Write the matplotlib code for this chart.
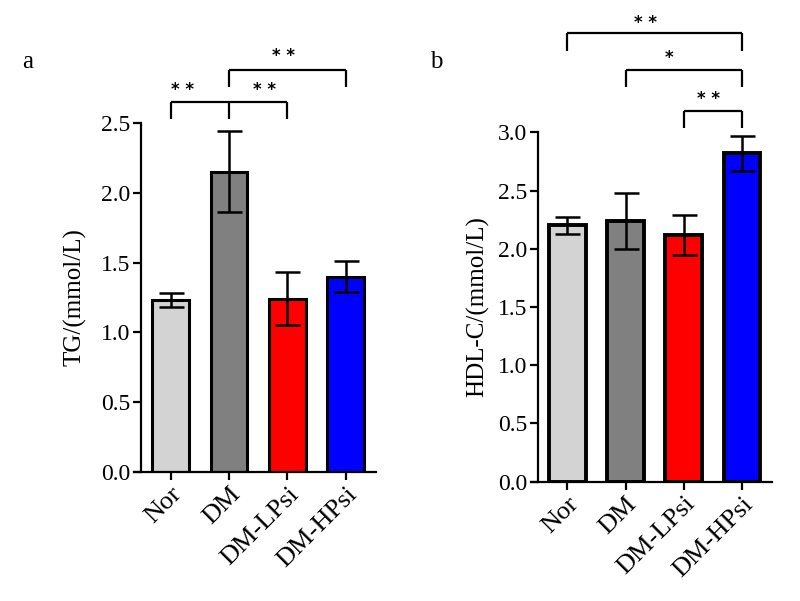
import matplotlib.pyplot as plt
import matplotlib.transforms as mtransforms
import numpy as np

groups = ['Nor', 'DM', 'DM-LPsi', 'DM-HPsi']
colors = ['#d3d3d3', '#808080', '#ff0000', '#0000ff']

tg_mean = [1.23, 2.15, 1.24, 1.40]
tg_err = [0.05, 0.29, 0.19, 0.11]

hdl_mean = [2.20, 2.24, 2.12, 2.82]
hdl_err = [0.07, 0.24, 0.17, 0.15]

plt.rcParams['font.family'] = ['Liberation Serif', 'DejaVu Serif']

fig = plt.figure(figsize=(8, 6.01), dpi=100)
ax1 = fig.add_axes([0.1675, 0.2146, 0.3025, 0.5807])
ax2 = fig.add_axes([0.66375, 0.1985, 0.30125, 0.5814])


def draw_panel(ax, mean, err, ylim, yticks, ylabel, edge_lw, pad):
    x = np.arange(len(groups))
    ax.bar(x, mean, width=0.63, color=colors, edgecolor='black', linewidth=edge_lw, zorder=2)
    ax.errorbar(x, mean, yerr=err, fmt='none', ecolor='black', elinewidth=1.8,
                capsize=9, capthick=1.8, zorder=3)
    ax.set_xlim(-0.625, 3.515)
    ax.set_ylim(*ylim)
    ax.set_yticks(yticks)
    ax.set_yticklabels([f'{t:.1f}' for t in yticks])
    ax.set_xticks(x)
    ax.set_xticklabels(groups, rotation=45, ha='right', rotation_mode='anchor', fontsize=19)
    # nudge the rotated labels a little right, like the original
    offset = mtransforms.ScaledTranslation(7 / 100, -3 / 100, fig.dpi_scale_trans)
    for lab in ax.get_xticklabels():
        lab.set_transform(lab.get_transform() + offset)
    ax.spines['top'].set_visible(False)
    ax.spines['right'].set_visible(False)
    ax.spines['left'].set_position(('data', -0.5))
    ax.spines['left'].set_linewidth(1.6)
    ax.spines['bottom'].set_linewidth(1.6)
    ax.tick_params(axis='both', width=1.6, length=6, pad=2)
    ax.tick_params(axis='y', labelsize=17)
    ax.set_ylabel(ylabel, fontsize=18, labelpad=pad)


def bracket(ax, x1, x2, y, drop, mid=None):
    kw = dict(color='black', lw=1.6, clip_on=False, solid_capstyle='butt')
    ax.plot([x1, x2], [y, y], **kw)
    ax.plot([x1, x1], [y, y - drop], **kw)
    ax.plot([x2, x2], [y, y - drop], **kw)
    if mid is not None:
        ax.plot([mid, mid], [y, y - drop], **kw)


def stars(ax, x, y, s):
    ax.text(x, y, s, ha='center', va='center', fontsize=12, fontweight='bold',
            family='DejaVu Sans', clip_on=False)


draw_panel(ax1, tg_mean, tg_err, (0, 2.5), [0.0, 0.5, 1.0, 1.5, 2.0, 2.5], 'TG/(mmol/L)', 2.2, 10)
draw_panel(ax2, hdl_mean, hdl_err, (0, 3.0), [0.0, 0.5, 1.0, 1.5, 2.0, 2.5, 3.0], 'HDL-C/(mmol/L)', 2.8, 6)

# panel a significance
bracket(ax1, 0, 2, 2.653, 0.124, mid=1)
stars(ax1, 0.2, 2.74, '* *')
stars(ax1, 1.6, 2.74, '* *')
bracket(ax1, 1, 3, 2.88, 0.122)
stars(ax1, 1.93, 2.98, '* *')

# panel b significance
bracket(ax2, 0, 3, 3.852, 0.158)
stars(ax2, 1.35, 3.935, '* *')
bracket(ax2, 1, 3, 3.537, 0.146)
stars(ax2, 1.75, 3.635, '*')
bracket(ax2, 2, 3, 3.184, 0.145)
stars(ax2, 2.42, 3.29, '* *')

fig.text(22 / 800, 1 - 62 / 601, 'a', fontsize=18, ha='left', va='center')
fig.text(430 / 800, 1 - 62 / 601, 'b', fontsize=18, ha='left', va='center')

fig.savefig('out.png', dpi=100)
